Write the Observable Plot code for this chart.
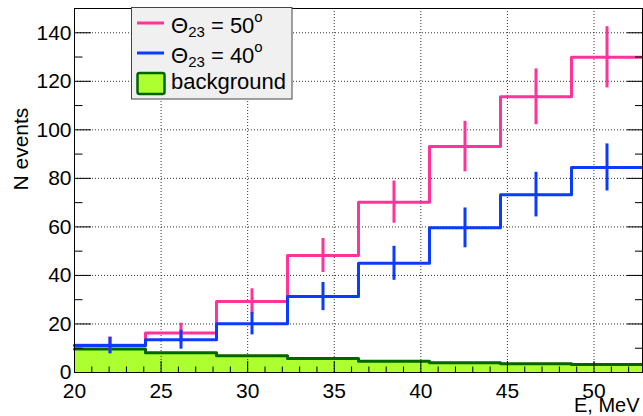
<!DOCTYPE html>
<html><head><meta charset="utf-8">
<script src="https://cdn.jsdelivr.net/npm/d3@7"></script>
<script src="https://cdn.jsdelivr.net/npm/@observablehq/plot@0.6"></script>
<style>
body{margin:0;background:#fff;}
#wrap{position:relative;width:643px;height:416px;font-family:"Liberation Sans",Arial,Helvetica,sans-serif;}
#legend{position:absolute;left:131px;top:7px;font-family:"Liberation Sans",Arial,Helvetica,sans-serif;}
</style></head><body>
<div id="wrap"></div>
<script>
// ---- data ----
const binEdges   = [20, 24.1, 28.2, 32.3, 36.4, 40.5, 44.6, 48.7, 52.8];
const theta50    = [11.2, 16.3, 29.3, 48.2, 70.2, 93.1, 113.6, 129.9];
const theta50Err = [3.4, 4.0, 5.2, 7.0, 8.7, 10.4, 11.5, 12.6];
const theta40    = [11.1, 13.5, 20.1, 31.3, 45.0, 59.6, 73.3, 84.5];
const theta40Err = [3.4, 3.9, 4.6, 5.8, 7.0, 8.2, 9.2, 9.7];
const background = [9.7, 8.1, 6.9, 5.8, 4.6, 4.0, 3.6, 3.3];
const xTicks = [20, 25, 30, 35, 40, 45, 50];
const yTicks = [0, 20, 40, 60, 80, 100, 120, 140];
const xMinorTicks = [21,22,23,24,26,27,28,29,31,32,33,34,36,37,38,39,41,42,43,44,46,47,48,49,51,52];
const yMinorTicks = [10, 30, 50, 70, 90, 110, 130];
const xTitle = "E, MeV";
const yTitle = "N events";
const legendNames = ["Θ", "Θ", "background"];
const legendSubs = ["23", "23"];
const legendValues = [" = 50", " = 40"];

const PINK = "#ff3399", BLUE = "#0b3bff", DKGREEN = "#006400", LIME = "#adff2f";

// step-line points (last value repeated at the final edge)
const steps = vals => binEdges.map((e, i) => ({x: e, y: vals[Math.min(i, vals.length - 1)]}));
const centers = binEdges.slice(0, -1).map((e, i) => (e + binEdges[i + 1]) / 2);
const errs = (vals, er) => vals.map((v, i) => ({x: centers[i], y1: v - er[i], y2: v + er[i]}));

const gridStyle = {stroke: "#000", strokeOpacity: 0.8, strokeDasharray: "1,2"};

const chart = Plot.plot({
  width: 643, height: 416,
  marginLeft: 74, marginTop: 8, marginRight: 1, marginBottom: 44,
  x: {domain: [20, 52.8]},
  y: {domain: [0, 150]},
  style: {fontFamily: '"Liberation Sans",Arial,Helvetica,sans-serif', fontSize: "21px", background: "white", color: "black", overflow: "visible"},
  marks: [
    Plot.areaY(steps(background), {x: "x", y: "y", curve: "step-after", fill: LIME}),
    Plot.gridX(xTicks.slice(1), gridStyle),
    Plot.gridY(yTicks.slice(1), gridStyle),
    Plot.line(steps(background), {x: "x", y: "y", curve: "step-after", stroke: DKGREEN, strokeWidth: 3}),
    Plot.line(steps(theta50), {x: "x", y: "y", curve: "step-after", stroke: PINK, strokeWidth: 3}),
    Plot.ruleX(errs(theta50, theta50Err), {x: "x", y1: "y1", y2: "y2", stroke: PINK, strokeWidth: 3}),
    Plot.line(steps(theta40), {x: "x", y: "y", curve: "step-after", stroke: BLUE, strokeWidth: 3}),
    Plot.ruleX(errs(theta40, theta40Err), {x: "x", y1: "y1", y2: "y2", stroke: BLUE, strokeWidth: 3}),
    Plot.axisX(xTicks, {tickSize: 0, tickPadding: 10.5, fontSize: 21, label: null}),
    Plot.axisX(xMinorTicks, {tickSize: -5.5, fill: "none", label: null}),
    Plot.axisX(xTicks, {tickSize: -11, fill: "none", label: null}),
    Plot.axisY(yTicks, {tickSize: 0, tickPadding: 3, fontSize: 21, label: null}),
    Plot.axisY(yMinorTicks, {tickSize: -8.5, fill: "none", label: null}),
    Plot.axisY(yTicks, {tickSize: -17, fill: "none", label: null}),
    Plot.axisY(yMinorTicks, {anchor: "right", tickSize: -8, fill: "none", label: null}),
    Plot.axisY(yTicks, {anchor: "right", tickSize: -16, fill: "none", label: null}),
    Plot.frame({stroke: "black", strokeWidth: 1}),
    Plot.text([xTitle], {text: d => d, frameAnchor: "bottom-right", textAnchor: "end", lineAnchor: "top", dx: -3, dy: 25.5, fontSize: 20}),
    Plot.text([yTitle], {text: d => d, frameAnchor: "left", rotate: -90, dx: -53.5, fontSize: 21})
  ]
});
const wrap = document.getElementById("wrap");
wrap.appendChild(chart);

// ---- legend (ROOT-style box over the plot) ----
const ns = "http://www.w3.org/2000/svg";
const lg = document.createElementNS(ns, "svg");
lg.setAttribute("id", "legend");
lg.setAttribute("width", 162); lg.setAttribute("height", 93);
function el(tag, attrs, parent) {
  const e = document.createElementNS(ns, tag);
  for (const k in attrs) e.setAttribute(k, attrs[k]);
  (parent || lg).appendChild(e);
  return e;
}
el("rect", {x: 0.5, y: 0.5, width: 160.5, height: 91.5, fill: "#f0f0f0", stroke: "#444", "stroke-width": 1});
const colors = [PINK, BLUE];
[0, 1].forEach(i => {
  const ly = 16 + i * 30, by = 26 + i * 30;
  el("line", {x1: 6, x2: 33, y1: ly, y2: ly, stroke: colors[i], "stroke-width": 3});
  const t = el("text", {x: 40, y: by, "font-size": 22, fill: "#000"});
  t.appendChild(document.createTextNode(legendNames[i]));
  const s1 = el("tspan", {"font-size": 15, dy: 4}, t); s1.textContent = legendSubs[i];
  const s2 = el("tspan", {dy: -4}, t); s2.textContent = legendValues[i];
  const s3 = el("tspan", {"font-size": 15, dy: -11}, t); s3.textContent = "o";
});
el("rect", {x: 6.5, y: 66, width: 27, height: 21, rx: 2, fill: LIME, stroke: DKGREEN, "stroke-width": 2.5});
const bt = el("text", {x: 40, y: 82, "font-size": 22, fill: "#000"});
bt.textContent = legendNames[2];
wrap.appendChild(lg);
</script>
</body></html>
